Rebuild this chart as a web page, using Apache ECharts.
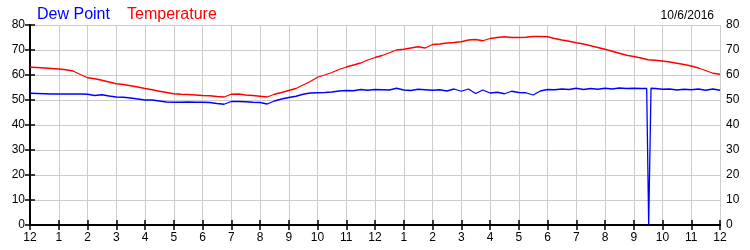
<!DOCTYPE html>
<html>
<head>
<meta charset="utf-8">
<script src="https://cdn.jsdelivr.net/npm/echarts@6/dist/echarts.min.js"></script>
<style>html,body{margin:0;padding:0;background:#fff}#c{width:750px;height:250px}</style>
</head>
<body>
<div id="c"></div>
<script>
// hour-of-day positions (0 = midnight) for temperature samples
var tempHours = [0,0.25,0.5,0.75,1,1.25,1.5,1.75,2,2.25,2.5,2.75,3,3.25,3.5,3.75,4,4.25,4.5,4.75,5,5.25,5.5,5.75,6,6.25,6.5,6.75,7,7.25,7.5,7.75,8,8.25,8.5,8.75,9,9.25,9.5,9.75,10,10.25,10.5,10.75,11,11.25,11.5,11.75,12,12.25,12.5,12.75,13,13.25,13.5,13.75,14,14.25,14.5,14.75,15,15.25,15.5,15.75,16,16.25,16.5,16.75,17,17.25,17.5,17.75,18,18.25,18.5,18.75,19,19.25,19.5,19.75,20,20.25,20.5,20.75,21,21.25,21.5,21.75,22,22.25,22.5,22.75,23,23.25,23.5,23.75,24];
var temperature = [63.1,63.0,62.8,62.6,62.4,62.1,61.6,60.2,58.9,58.5,57.9,57.2,56.5,56.2,55.7,55.2,54.6,54.1,53.5,53.0,52.5,52.3,52.2,52.0,51.8,51.7,51.4,51.2,52.3,52.4,52.0,51.8,51.5,51.2,52.3,53.0,53.8,54.6,56.0,57.4,59.1,60.0,61.0,62.2,63.2,64.0,64.8,66.0,67.0,67.8,68.9,70.0,70.3,70.8,71.3,70.8,72.2,72.4,72.8,73.0,73.3,74.0,74.2,73.7,74.6,75.0,75.3,75.0,75.0,75.1,75.4,75.4,75.3,74.6,74.0,73.5,72.9,72.4,71.7,71.0,70.3,69.5,68.7,67.9,67.4,66.8,66.1,65.9,65.6,65.2,64.7,64.2,63.6,62.8,61.8,60.7,60.3];
// hour-of-day positions for dew point samples
var dewHours = [0,0.25,0.5,0.75,1,1.25,1.5,1.75,2,2.25,2.5,2.75,3,3.25,3.5,3.75,4,4.25,4.5,4.75,5,5.25,5.5,5.75,6,6.25,6.5,6.75,7,7.25,7.5,7.75,8,8.25,8.5,8.75,9,9.25,9.5,9.75,10,10.25,10.5,10.75,11,11.25,11.5,11.75,12,12.25,12.5,12.75,13,13.25,13.5,13.75,14,14.25,14.5,14.75,15,15.25,15.5,15.75,16,16.25,16.5,16.75,17,17.25,17.5,17.75,18,18.25,18.5,18.75,19,19.25,19.5,19.75,20,20.25,20.5,20.75,21,21.25,21.45,21.52,21.6,21.75,22,22.25,22.5,22.75,23,23.25,23.5,23.75,24];
var dewPoint = [52.7,52.6,52.5,52.4,52.4,52.4,52.4,52.4,52.3,51.8,52.1,51.6,51.2,51.1,50.8,50.4,50.0,50.0,49.6,49.2,49.1,49.1,49.2,49.1,49.1,49.0,48.6,48.3,49.4,49.4,49.3,49.1,49.0,48.4,49.6,50.4,51.0,51.5,52.3,52.8,52.9,53.0,53.2,53.6,53.8,53.7,54.2,53.9,54.2,54.1,54.0,54.7,54.0,53.8,54.3,54.1,53.9,54.1,53.6,54.4,53.5,54.4,52.6,54.0,52.8,53.1,52.5,53.5,53.0,52.9,52.0,53.6,54.2,54.1,54.4,54.2,54.7,54.2,54.6,54.3,54.7,54.4,54.8,54.6,54.7,54.6,54.6,0,54.7,54.6,54.3,54.4,54.0,54.3,54.1,54.4,53.9,54.4,53.9];
var yTicks = [0,10,20,30,40,50,60,70,80];
var dateLabel = '10/6/2016';

function pairs(xs, ys){ return xs.map(function(x,i){ return [x, ys[i]]; }); }
function hourLabel(v){ var h = Math.round(v) % 12; return String(h === 0 ? 12 : h); }

var chart = echarts.init(document.getElementById('c'), null, {renderer:'canvas'});
var font = 'Liberation Sans, Arial, sans-serif';
var axisLine = {show:true, lineStyle:{color:'#000', width:2}};
var tick = {show:true, inside:true, length:5, lineStyle:{color:'#000', width:1.5}};
chart.setOption({
  animation:false,
  backgroundColor:'#fff',
  title:[
    {left:32, top:2, text:'Dew Point', textStyle:{color:'#0000ff', fontSize:16, fontWeight:'normal', fontFamily:font}},
    {left:122, top:2, text:'Temperature', textStyle:{color:'#ff0000', fontSize:16, fontWeight:'normal', fontFamily:font}},
    {right:31, top:5, text:dateLabel, textStyle:{color:'#000', fontSize:12, fontWeight:'normal', fontFamily:font}}
  ],
  grid:{left:30, right:30, top:25, bottom:25, containLabel:false},
  xAxis:[
    {type:'value', position:'bottom', min:0, max:24, interval:1,
     axisLine:axisLine, axisTick:tick,
     axisLabel:{color:'#000', fontSize:12, fontFamily:font, margin:7, formatter:hourLabel, showMinLabel:true, showMaxLabel:true},
     splitLine:{show:true, lineStyle:{color:'#cccccc', width:1}}},
    {type:'value', position:'top', min:0, max:24, interval:1,
     axisLine:axisLine, axisTick:tick, axisLabel:{show:false}, splitLine:{show:false}}
  ],
  yAxis:[
    {type:'value', position:'left', min:yTicks[0], max:yTicks[yTicks.length-1], interval:10,
     axisLine:axisLine, axisTick:tick,
     axisLabel:{color:'#000', fontSize:12, fontFamily:font, margin:5},
     splitLine:{show:true, lineStyle:{color:'#cccccc', width:1}}},
    {type:'value', position:'right', min:yTicks[0], max:yTicks[yTicks.length-1], interval:10,
     axisLine:axisLine, axisTick:tick,
     axisLabel:{color:'#000', fontSize:12, fontFamily:font, margin:6},
     splitLine:{show:false}}
  ],
  series:[
    {name:'Temperature', type:'line', data:pairs(tempHours, temperature), showSymbol:false, symbol:'none',
     lineStyle:{color:'#ff0000', width:1.3}, z:3},
    {name:'Dew Point', type:'line', data:pairs(dewHours, dewPoint), showSymbol:false, symbol:'none',
     lineStyle:{color:'#0000ff', width:1.3}, z:4}
  ]
});
</script>
</body>
</html>
